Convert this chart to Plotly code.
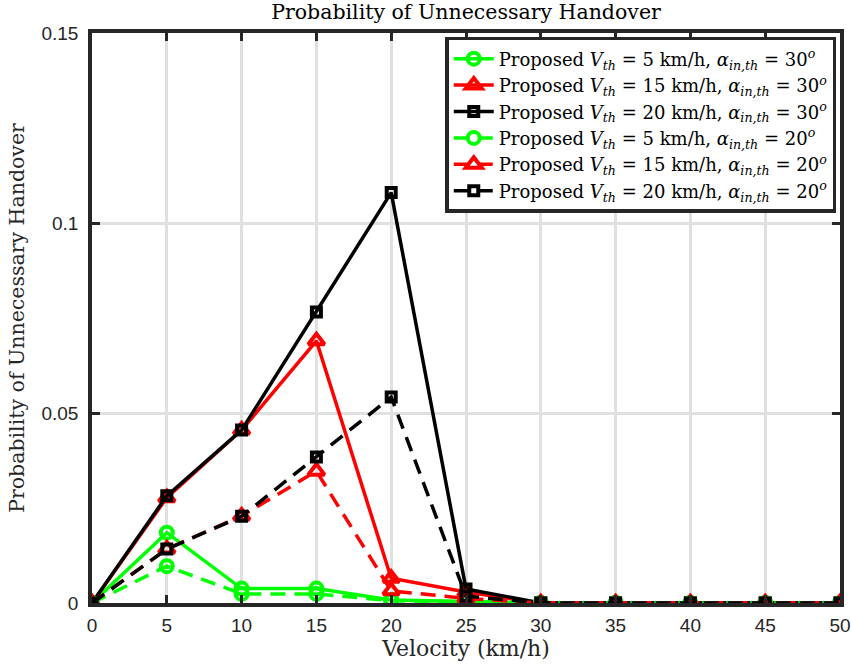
import plotly.graph_objects as go

velocity = [0, 5, 10, 15, 20, 25, 30, 35, 40, 45, 50]

p_v5_a30 = [0, 0.0185, 0.0038, 0.0038, 0.0008, 0.0004, 0, 0, 0, 0, 0]
p_v15_a30 = [0, 0.0277, 0.0455, 0.0690, 0.0065, 0.0029, 0, 0, 0, 0, 0]
p_v20_a30 = [0, 0.0282, 0.0455, 0.0766, 0.1080, 0.0037, 0, 0, 0, 0, 0]
p_v5_a20 = [0, 0.0097, 0.0024, 0.0024, 0.0006, 0.0003, 0, 0, 0, 0, 0]
p_v15_a20 = [0, 0.0142, 0.0229, 0.0347, 0.0032, 0.0012, 0, 0, 0, 0, 0]
p_v20_a20 = [0, 0.0142, 0.0228, 0.0384, 0.0542, 0.0018, 0, 0, 0, 0, 0]

names = [
    "Proposed <i>V</i><sub><i>th</i></sub> = 5 km/h, <i>α</i><sub><i>in,th</i></sub> = 30<sup><i>o</i></sup>",
    "Proposed <i>V</i><sub><i>th</i></sub> = 15 km/h, <i>α</i><sub><i>in,th</i></sub> = 30<sup><i>o</i></sup>",
    "Proposed <i>V</i><sub><i>th</i></sub> = 20 km/h, <i>α</i><sub><i>in,th</i></sub> = 30<sup><i>o</i></sup>",
    "Proposed <i>V</i><sub><i>th</i></sub> = 5 km/h, <i>α</i><sub><i>in,th</i></sub> = 20<sup><i>o</i></sup>",
    "Proposed <i>V</i><sub><i>th</i></sub> = 15 km/h, <i>α</i><sub><i>in,th</i></sub> = 20<sup><i>o</i></sup>",
    "Proposed <i>V</i><sub><i>th</i></sub> = 20 km/h, <i>α</i><sub><i>in,th</i></sub> = 20<sup><i>o</i></sup>",
]
series = [p_v5_a30, p_v15_a30, p_v20_a30, p_v5_a20, p_v15_a20, p_v20_a20]
colors = ["#00ff00", "#ff0000", "#000000", "#00ff00", "#ff0000", "#000000"]
symbols = ["circle-open", "triangle-up-open", "square-open",
           "circle-open", "triangle-up-open", "square-open"]
sizes = [12, 14, 9, 12, 14, 9]
dashes = ["solid", "solid", "solid", "15px,9px", "15px,9px", "15px,9px"]

SERIF = "DejaVu Serif, Liberation Serif, serif"
SANS = "Liberation Sans, Arial, sans-serif"

fig = go.Figure()
for y, n, c, s, sz, d in zip(series, names, colors, symbols, sizes, dashes):
    fig.add_trace(go.Scatter(
        x=velocity, y=y, name=n, mode="lines+markers",
        line=dict(color=c, width=3.5, dash=d),
        marker=dict(symbol=s, size=sz, color=c, line=dict(color=c, width=4)),
    ))

axis_common = dict(
    showline=True, linewidth=3.5, linecolor="#262626", mirror="ticks",
    ticks="inside", ticklen=8, tickwidth=2.5, tickcolor="#262626",
    showgrid=True, gridcolor="#e0e0e0", gridwidth=2.5, zeroline=False,
    automargin=False,
    tickfont=dict(family=SANS, size=19, color="#262626"),
)

fig.update_layout(
    width=851, height=671,
    margin=dict(l=92, r=11, t=33, b=68),
    paper_bgcolor="white", plot_bgcolor="white",
    title=dict(text="Probability of Unnecessary Handover",
               font=dict(family=SERIF, size=20.5, color="black"),
               x=0.5, xanchor="center", xref="paper", y=0.982, yanchor="middle"),
    xaxis=dict(range=[0, 50], tickvals=list(range(0, 51, 5)),
               ticklabelstandoff=2,
               title=dict(text="Velocity (km/h)", standoff=7,
                          font=dict(family=SERIF, size=22, color="#262626")),
               **axis_common),
    yaxis=dict(range=[0, 0.15], tickvals=[0, 0.05, 0.1, 0.15],
               ticktext=["0", "0.05", "0.1", "0.15"],
               ticklabelstandoff=6,
               title=dict(text="Probability of Unnecessary Handover", standoff=12,
                          font=dict(family=SERIF, size=20.5, color="#262626")),
               **axis_common),
    legend=dict(x=0.995, y=0.993, xanchor="right", yanchor="top",
                bgcolor="white", bordercolor="#262626", borderwidth=3.5,
                font=dict(family=SERIF, size=18, color="black"),
                tracegroupgap=0, itemwidth=40),
    showlegend=True,
)

fig.write_html("out.html")
